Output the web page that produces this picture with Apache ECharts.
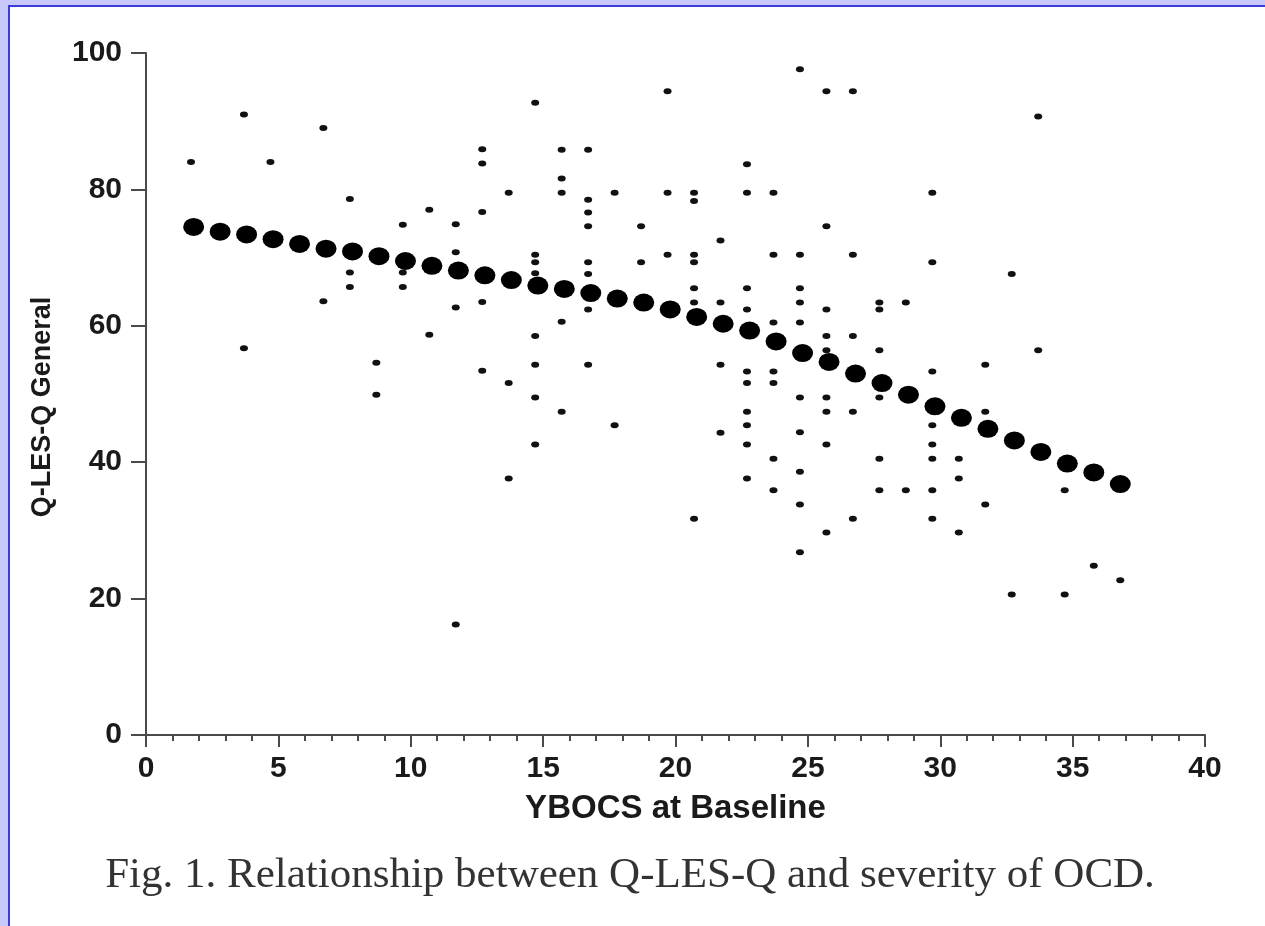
<!DOCTYPE html>
<html>
<head>
<meta charset="utf-8">
<script src="https://cdn.jsdelivr.net/npm/echarts@6/dist/echarts.min.js"></script>
<style>
html, body {
    margin: 0;
    padding: 0;
}
body {
    width: 1265px;
    height: 926px;
    background: #c8c8fa;
    position: relative;
    overflow: hidden;
}
.panel {
    position: absolute;
    left: 8px;
    top: 5px;
    right: 0;
    bottom: 0;
    background: #ffffff;
    border-left: 2px solid #3c3cdc;
    border-top: 2px solid #3c3cdc;
}
#chart {
    position: absolute;
    left: 0;
    top: 0;
    width: 1265px;
    height: 926px;
}
</style>
</head>
<body>
<div class="panel"></div>
<div id="chart"></div>
<script>
// fitted curve (big dots), YBOCS baseline vs Q-LES-Q
var fitX = [1.8, 2.8, 3.8, 4.8, 5.8, 6.8, 7.8, 8.8, 9.8, 10.8, 11.8, 12.8, 13.8, 14.8, 15.8, 16.8, 17.8, 18.8,
    19.8, 20.8, 21.8, 22.8, 23.8, 24.8, 25.8, 26.8, 27.8, 28.8, 29.8, 30.8, 31.8, 32.8, 33.8, 34.8, 35.8, 36.8]
var fitY = [74.5, 73.8, 73.4, 72.7, 72.0, 71.3, 70.9, 70.2, 69.5, 68.8, 68.1, 67.4, 66.7, 65.9, 65.4, 64.8, 64.0, 63.4,
    62.4, 61.3, 60.3, 59.3, 57.7, 56.0, 54.7, 53.0, 51.6, 49.9, 48.2, 46.5, 44.9, 43.2, 41.5, 39.8, 38.5, 36.8]

// individual patients (small points)
var obsX = [
    1.7,
    3.7, 3.7,
    4.7,
    6.7, 6.7,
    7.7, 7.7, 7.7,
    8.7, 8.7,
    9.7, 9.7, 9.7,
    10.7, 10.7,
    11.7, 11.7, 11.7, 11.7,
    12.7, 12.7, 12.7, 12.7, 12.7,
    13.7, 13.7, 13.7,
    14.7, 14.7, 14.7, 14.7, 14.7, 14.7, 14.7, 14.7,
    15.7, 15.7, 15.7, 15.7, 15.7,
    16.7, 16.7, 16.7, 16.7, 16.7, 16.7, 16.7, 16.7,
    17.7, 17.7,
    18.7, 18.7,
    19.7, 19.7, 19.7,
    20.7, 20.7, 20.7, 20.7, 20.7, 20.7, 20.7,
    21.7, 21.7, 21.7, 21.7,
    22.7, 22.7, 22.7, 22.7, 22.7, 22.7, 22.7, 22.7, 22.7, 22.7,
    23.7, 23.7, 23.7, 23.7, 23.7, 23.7, 23.7,
    24.7, 24.7, 24.7, 24.7, 24.7, 24.7, 24.7, 24.7, 24.7, 24.7,
    25.7, 25.7, 25.7, 25.7, 25.7, 25.7, 25.7, 25.7, 25.7,
    26.7, 26.7, 26.7, 26.7, 26.7,
    27.7, 27.7, 27.7, 27.7, 27.7, 27.7,
    28.7, 28.7,
    29.7, 29.7, 29.7, 29.7, 29.7, 29.7, 29.7, 29.7,
    30.7, 30.7, 30.7,
    31.7, 31.7, 31.7,
    32.7, 32.7,
    33.7, 33.7,
    34.7, 34.7,
    35.8,
    36.8
]
var obsY = [
    84,
    91, 56.7,
    84,
    89, 63.6,
    78.6, 67.8, 65.7,
    54.6, 49.9,
    74.8, 67.8, 65.7,
    77, 58.7,
    74.9, 70.8, 62.7, 16.2,
    85.9, 83.8, 76.7, 63.5, 53.4,
    79.5, 51.6, 37.6,
    92.7, 70.4, 69.3, 67.7, 58.5, 54.3, 49.5, 42.6,
    85.8, 81.6, 79.5, 60.6, 47.4,
    85.8, 78.5, 76.6, 74.6, 69.3, 67.6, 62.4, 54.3,
    79.5, 45.4,
    74.6, 69.3,
    94.4, 79.5, 70.4,
    79.5, 78.3, 70.4, 69.3, 65.5, 63.4, 31.7,
    72.5, 63.4, 54.3, 44.3,
    83.7, 79.5, 65.5, 62.4, 53.3, 51.6, 47.4, 45.4, 42.6, 37.6,
    79.5, 70.4, 60.5, 53.3, 51.6, 40.5, 35.9,
    97.6, 70.4, 65.5, 63.4, 60.5, 49.5, 44.4, 38.6, 33.8, 26.8,
    94.4, 74.6, 62.4, 58.5, 56.4, 49.5, 47.4, 42.6, 29.7,
    94.4, 70.4, 58.5, 47.4, 31.7,
    63.4, 62.4, 56.4, 49.5, 40.5, 35.9,
    63.4, 35.9,
    79.5, 69.3, 53.3, 45.4, 42.6, 40.5, 35.9, 31.7,
    40.5, 37.6, 29.7,
    54.3, 47.4, 33.8,
    67.6, 20.6,
    90.7, 56.4,
    35.9, 20.6,
    24.8,
    22.7
]

var xTicks = [0, 5, 10, 15, 20, 25, 30, 35, 40]
var yTicks = [0, 20, 40, 60, 80, 100]
var caption = 'Fig. 1. Relationship between Q-LES-Q and severity of OCD.'

var fitData = fitX.map(function (x, i) { return [x, fitY[i]] })
var obsData = obsX.map(function (x, i) { return [x, obsY[i]] })

var dom = document.getElementById('chart')
var chart = echarts.init(dom, null, { renderer: 'canvas' })

var axisLine = { lineStyle: { color: '#4a4a4a', width: 2 } }
var labelFont = {
    fontFamily: 'Liberation Sans, Arial, sans-serif',
    fontWeight: 'bold',
    fontSize: 30,
    color: '#1a1a1a'
}

var option = {
    animation: false,
    backgroundColor: 'transparent',
    grid: {
        left: 146,
        right: 60,
        top: 53,
        bottom: 191
    },
    xAxis: {
        type: 'value',
        min: xTicks[0],
        max: xTicks[xTicks.length - 1],
        interval: 5,
        name: 'YBOCS at Baseline',
        nameLocation: 'middle',
        nameGap: 57,
        nameTextStyle: {
            fontFamily: 'Liberation Sans, Arial, sans-serif',
            fontWeight: 'bold',
            fontSize: 33,
            color: '#1a1a1a'
        },
        axisLine: axisLine,
        axisTick: { show: true, length: 12, lineStyle: { color: '#4a4a4a', width: 2 } },
        minorTick: { show: true, splitNumber: 5, length: 6, lineStyle: { color: '#4a4a4a', width: 2 } },
        axisLabel: Object.assign({ margin: 19 }, labelFont),
        splitLine: { show: false }
    },
    yAxis: {
        type: 'value',
        min: yTicks[0],
        max: yTicks[yTicks.length - 1],
        interval: 20,
        name: 'Q-LES-Q General',
        nameLocation: 'middle',
        nameGap: 90,
        nameTextStyle: {
            fontFamily: 'Liberation Sans, Arial, sans-serif',
            fontWeight: 'bold',
            fontSize: 27,
            color: '#1a1a1a',
            padding: [0, 26, 0, 0]
        },
        axisLine: axisLine,
        axisTick: { show: true, length: 15, lineStyle: { color: '#4a4a4a', width: 2 } },
        axisLabel: Object.assign({ margin: 24 }, labelFont),
        splitLine: { show: false }
    },
    graphic: [{
        type: 'text',
        style: {
            x: 630,
            y: 876,
            text: caption,
            textAlign: 'center',
            textVerticalAlign: 'middle',
            font: '43px "Liberation Serif", "Times New Roman", serif',
            fill: '#333333'
        }
    }],
    series: [
        {
            name: 'patients',
            type: 'scatter',
            data: obsData,
            symbol: 'circle',
            symbolSize: [8, 6],
            itemStyle: { color: '#111111', opacity: 1 },
            z: 2
        },
        {
            name: 'fit',
            type: 'scatter',
            data: fitData,
            symbol: 'circle',
            symbolSize: [21, 18],
            itemStyle: { color: '#000000', opacity: 1 },
            z: 3
        }
    ]
}

chart.setOption(option)
</script>
</body>
</html>
